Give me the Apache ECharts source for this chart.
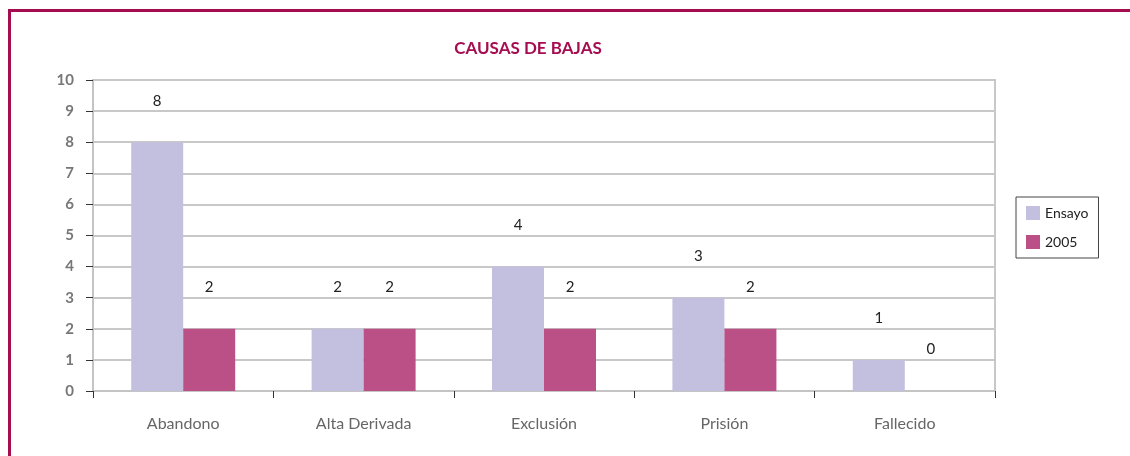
<!DOCTYPE html>
<html>
<head>
<meta charset="utf-8">
<script src="https://cdn.jsdelivr.net/npm/echarts@6/dist/echarts.min.js"></script>
<style>
  html, body { margin: 0; padding: 0; background: #fff; }
  #frame {
    position: absolute; left: 8px; top: 9px; width: 1130px; height: 460px;
    border-left: 3px solid #a60d50; border-top: 3px solid #a60d50;
  }
  #chart { position: absolute; left: 0; top: 0; width: 1130px; height: 456px; }
</style>
</head>
<body>
<div id="frame"></div>
<div id="chart"></div>
<script>
const categories = ["Abandono", "Alta Derivada", "Exclusión", "Prisión", "Fallecido"];
const ensayoValues = [8, 2, 4, 3, 1];
const values2005 = [2, 2, 2, 2, 0];
const yTicks = [0, 1, 2, 3, 4, 5, 6, 7, 8, 9, 10];

const FONT = "Lato, 'Open Sans', sans-serif";

const chart = echarts.init(document.getElementById("chart"), null, { renderer: "canvas" });

const labelStyle = {
  show: true,
  position: "top",
  distance: 34,
  color: "#222",
  fontSize: 15,
  fontFamily: FONT,
};

chart.setOption({
  animation: false,
  title: {
    text: "CAUSAS DE BAJAS",
    left: 523,
    top: 35,
    textAlign: "center",
    textStyle: { color: "#a60d50", fontSize: 17, fontWeight: "bold", fontFamily: FONT },
  },
  legend: {
    orient: "vertical",
    left: 1016,
    top: 197,
    width: 83,
    padding: [9, 10, 9, 10],
    itemGap: 15,
    itemWidth: 14,
    itemHeight: 14,
    borderColor: "#444",
    borderWidth: 1,
    icon: "rect",
    textStyle: { color: "#222", fontSize: 14, fontFamily: FONT },
    data: ["Ensayo", "2005"],
  },
  grid: {
    left: 93,
    right: 135,
    top: 80,
    bottom: 65,
    show: true,
    borderColor: "#c8c8c8",
    borderWidth: 2,
  },
  xAxis: {
    type: "category",
    data: categories,
    axisLine: { lineStyle: { color: "#c4c4c4", width: 2 } },
    axisTick: { show: true, length: 7, lineStyle: { color: "#333" } },
    axisLabel: { color: "#666", fontSize: 16, fontFamily: FONT, margin: 25 },
  },
  yAxis: {
    type: "value",
    min: 0,
    max: 10,
    interval: 1,
    axisLine: { show: true, lineStyle: { color: "#c4c4c4", width: 2 } },
    axisTick: { show: true, length: 7, lineStyle: { color: "#333" } },
    splitLine: { lineStyle: { color: "#c8c8c8", width: 2 } },
    axisLabel: {
      color: "#777",
      fontSize: 15,
      fontWeight: "bold",
      fontFamily: FONT,
      margin: 19,
      formatter: (v) => (yTicks.includes(v) ? String(v) : ""),
    },
  },
  series: [
    {
      name: "Ensayo",
      type: "bar",
      data: ensayoValues,
      barWidth: 52,
      barGap: "0%",
      itemStyle: { color: "#c3c0df" },
      label: labelStyle,
    },
    {
      name: "2005",
      type: "bar",
      data: values2005,
      barWidth: 52,
      barGap: "0%",
      itemStyle: { color: "#bb5087" },
      label: labelStyle,
    },
  ],
});
</script>
</body>
</html>
